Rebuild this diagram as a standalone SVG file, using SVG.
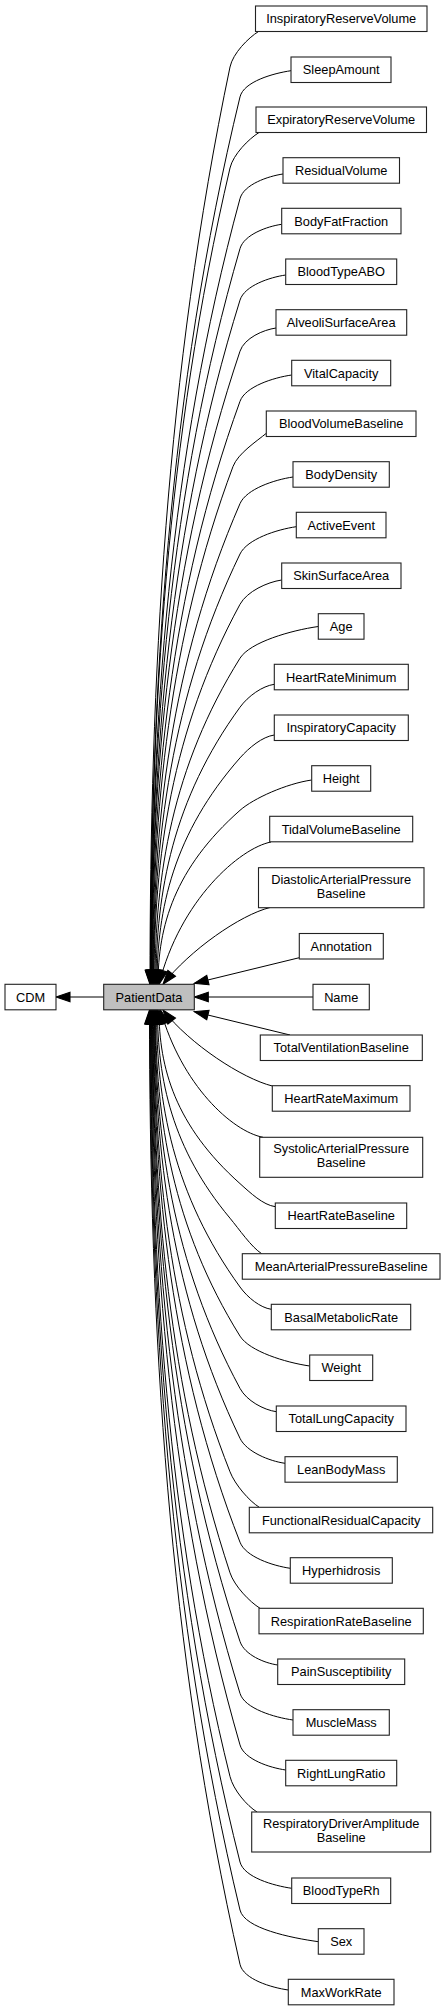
<svg xmlns="http://www.w3.org/2000/svg" width="445" height="2011" viewBox="0 0 445 2011">
<defs>
<marker id="ah" markerUnits="userSpaceOnUse" markerWidth="14" markerHeight="11" viewBox="0 0 13 10" refX="13" refY="5" orient="auto" overflow="visible">
<path d="M0,0.5 L13,5 L0,9.5 z" fill="#000" stroke="#000" stroke-width="1"/>
</marker>
<style>
.n rect{fill:#fff;stroke:#222;stroke-width:1.1}
.hl rect{fill:#bfbfbf}
text{font-family:"Liberation Sans",Arial,Helvetica,sans-serif;font-size:12.8px;text-anchor:middle;fill:#000}
#edges path{fill:none;stroke:#000;stroke-width:1;marker-end:url(#ah)}
</style>
</defs>
<rect x="0" y="0" width="445" height="2011" fill="#fff"/>
<g id="edges">
<path d="M258.5,31.5 C248.3,37.9 232.9,53.3 230,67 C166,372.8 150,678.5 150,984.3"/>
<path d="M291,70.7 C273.2,73.3 243.7,81.6 240,96.9 C168.4,392.7 150.5,688.5 150.5,984.3"/>
<path d="M259,132.5 C248.8,138.9 233.2,154.4 230,168 C166.4,440.1 150.5,712.2 150.5,984.3"/>
<path d="M283,174 C268,176.2 243.9,184.4 240,198.6 C168.8,460.5 151,722.4 151,984.3"/>
<path d="M281.7,224.3 C267.1,226.4 244.1,234.6 240,248.6 C168.8,493.8 151,739.1 151,984.3"/>
<path d="M285.7,275 C269.7,277.3 244.5,285.7 240,300.1 C169.2,528.2 151.5,756.2 151.5,984.3"/>
<path d="M276,328 C263.4,329.8 244.4,338 240,351.2 C169.2,562.2 151.5,773.3 151.5,984.3"/>
<path d="M291.7,375 C273.6,377.6 245.4,386.5 240,401.3 C169.6,595.6 152,790 152,984.3"/>
<path d="M266.3,433.3 C257,441 237.9,453.4 233,466.5 C168.6,639.1 152.5,811.7 152.5,984.3"/>
<path d="M293,477 C274.5,479.7 246.4,489 240,503.6 C170.4,663.8 153,824.1 153,984.3"/>
<path d="M296.3,526.7 C276.6,529.5 247.1,539.2 240,554 C170.8,697.4 153.5,840.9 153.5,984.3"/>
<path d="M281.7,580 C267.1,582.1 247,591.5 240,604.3 C171.2,731 154,857.6 154,984.3"/>
<path d="M318.3,626.5 C290.9,630.4 250.1,642.1 240,658.2 C172,766.9 155,875.6 155,984.3"/>
<path d="M274.3,684.3 C262.3,686 248.1,696.1 240,707.2 C172.8,799.6 156,891.9 156,984.3"/>
<path d="M274.3,735 C262.3,736.7 249.1,747.6 240,757.9 C173.6,833.4 157,908.8 157,984.3"/>
<path d="M311.7,780 C286.6,783.6 253.6,798.3 240,810.3 C174.4,868.3 158,926.3 158,984.3"/>
<path d="M271,842 C240,848 180,900 159,984.3"/>
<path d="M270,907.5 C240,915 190,950 163,984.3"/>
<path d="M299.3,957.7 L194.3,983.3"/>
<path d="M313,997 L194.3,997"/>
<path d="M103.7,997 L56,997"/>
<path d="M290,1035 L194.3,1011.7"/>
<path d="M272.3,1086 C242.3,1078.5 190,1044.3 163,1010"/>
<path d="M263,1137.3 C232,1131.3 181.5,1085 160.5,1010"/>
<path d="M275.3,1206.7 C262.9,1204.9 250.3,1192.8 240,1183.6 C175.2,1125.7 159,1067.9 159,1010"/>
<path d="M261.7,1253.7 C251.5,1247.3 239,1229 230,1218.2 C172,1148.8 157.5,1079.4 157.5,1010"/>
<path d="M271.3,1309.3 C260.3,1307.7 247.8,1297.8 240,1287 C173.2,1194.7 156.5,1102.3 156.5,1010"/>
<path d="M309.7,1366 C285.3,1362.5 249.5,1351.3 240,1336.1 C172.4,1227.4 155.5,1118.7 155.5,1010"/>
<path d="M276.3,1411.7 C263.6,1409.9 246.6,1400.7 240,1388.4 C172,1262.3 155,1136.1 155,1010"/>
<path d="M285,1463.3 C269.3,1461.1 246.5,1451.8 240,1438.3 C171.6,1295.5 154.5,1152.8 154.5,1010"/>
<path d="M259.3,1507.3 C249.1,1500.9 235.1,1484.8 230,1471.8 C169.2,1317.9 154,1163.9 154,1010"/>
<path d="M290.3,1568.3 C272.7,1565.8 245.7,1556.8 240,1542.2 C170.8,1364.8 153.5,1187.4 153.5,1010"/>
<path d="M260,1608.3 C249.8,1601.9 234.4,1586.1 230,1572.8 C168.4,1385.2 153,1197.6 153,1010"/>
<path d="M277.7,1665 C264.5,1663.1 244.5,1654.9 240,1641.5 C170,1431 152.5,1220.5 152.5,1010"/>
<path d="M293,1720 C274.5,1717.4 244.7,1708.7 240,1693.4 C169.6,1465.6 152,1237.8 152,1010"/>
<path d="M285.7,1770 C269.7,1767.7 244.2,1759.4 240,1744.9 C169.2,1499.9 151.5,1255 151.5,1010"/>
<path d="M257,1812 C246.8,1805.6 233.4,1790.1 230,1776.5 C166.8,1521 151,1265.5 151,1010"/>
<path d="M291.7,1888.3 C273.6,1885.7 243.9,1877.3 240,1862 C168.4,1578 150.5,1294 150.5,1010"/>
<path d="M318.3,1941.7 C290.9,1937.8 244.4,1928.5 240,1910 C168,1610 150,1310 150,1010"/>
<path d="M288.3,1990 C271.4,1987.6 243.4,1979.3 240,1964.3 C167.6,1646.2 149.5,1328.1 149.5,1010"/>
</g>
<g id="nodes">
<g id="n1" class="n"><rect x="255.5" y="6" width="171.5" height="25.5"/><text x="341.2" y="23.3">InspiratoryReserveVolume</text></g>
<g id="n2" class="n"><rect x="291" y="57" width="100" height="25.5"/><text x="341.2" y="74.2">SleepAmount</text></g>
<g id="n3" class="n"><rect x="256" y="107" width="170.5" height="25.5"/><text x="341.2" y="124.2">ExpiratoryReserveVolume</text></g>
<g id="n4" class="n"><rect x="283" y="157.7" width="116.5" height="25.5"/><text x="341.2" y="174.9">ResidualVolume</text></g>
<g id="n5" class="n"><rect x="281.7" y="208.3" width="119.3" height="25.5"/><text x="341.2" y="225.5">BodyFatFraction</text></g>
<g id="n6" class="n"><rect x="285.7" y="259" width="111" height="25.5"/><text x="341.2" y="276.2">BloodTypeABO</text></g>
<g id="n7" class="n"><rect x="276" y="309.7" width="130.7" height="25.5"/><text x="341.2" y="326.9">AlveoliSurfaceArea</text></g>
<g id="n8" class="n"><rect x="291.7" y="360.3" width="99" height="25.5"/><text x="341.2" y="377.5">VitalCapacity</text></g>
<g id="n9" class="n"><rect x="266.3" y="411" width="149.7" height="25.5"/><text x="341.2" y="428.2">BloodVolumeBaseline</text></g>
<g id="n10" class="n"><rect x="293" y="461.7" width="96.3" height="25.5"/><text x="341.2" y="478.9">BodyDensity</text></g>
<g id="n11" class="n"><rect x="296.3" y="512.3" width="89.7" height="25.5"/><text x="341.2" y="529.5">ActiveEvent</text></g>
<g id="n12" class="n"><rect x="281.7" y="563" width="119.3" height="25.5"/><text x="341.2" y="580.2">SkinSurfaceArea</text></g>
<g id="n13" class="n"><rect x="318.3" y="613.7" width="45.7" height="25.5"/><text x="341.2" y="630.9">Age</text></g>
<g id="n14" class="n"><rect x="274.3" y="664.3" width="134" height="25.5"/><text x="341.2" y="681.5">HeartRateMinimum</text></g>
<g id="n15" class="n"><rect x="274.3" y="715" width="134" height="25.5"/><text x="341.2" y="732.2">InspiratoryCapacity</text></g>
<g id="n16" class="n"><rect x="311.7" y="765.7" width="59" height="25.5"/><text x="341.2" y="782.9">Height</text></g>
<g id="n17" class="n"><rect x="269.7" y="816.3" width="143" height="25.5"/><text x="341.2" y="833.5">TidalVolumeBaseline</text></g>
<g id="n18" class="n"><rect x="258.5" y="867.7" width="165.5" height="40"/><text x="341.2" y="883.7">DiastolicArterialPressure</text><text x="341.2" y="897.7">Baseline</text></g>
<g id="n19" class="n"><rect x="299.3" y="933.5" width="84" height="25.5"/><text x="341.2" y="950.7">Annotation</text></g>
<g id="cdm" class="n"><rect x="5" y="984.3" width="51" height="25.5"/><text x="30.5" y="1001.5">CDM</text></g>
<g id="patientdata" class="n hl"><rect x="103.7" y="984.3" width="90.6" height="25.5"/><text x="149" y="1001.5">PatientData</text></g>
<g id="name" class="n"><rect x="313" y="984.3" width="56.3" height="25.5"/><text x="341.2" y="1001.5">Name</text></g>
<g id="n20" class="n"><rect x="260.3" y="1035" width="162" height="25.5"/><text x="341.2" y="1052.2">TotalVentilationBaseline</text></g>
<g id="n21" class="n"><rect x="272.3" y="1085.7" width="137.7" height="25.5"/><text x="341.2" y="1102.9">HeartRateMaximum</text></g>
<g id="n22" class="n"><rect x="259.7" y="1137.3" width="163" height="40"/><text x="341.2" y="1153.3">SystolicArterialPressure</text><text x="341.2" y="1167.3">Baseline</text></g>
<g id="n23" class="n"><rect x="275.3" y="1203" width="131.4" height="25.5"/><text x="341.2" y="1220.2">HeartRateBaseline</text></g>
<g id="n24" class="n"><rect x="242.3" y="1253.7" width="197.7" height="25.5"/><text x="341.2" y="1270.9">MeanArterialPressureBaseline</text></g>
<g id="n25" class="n"><rect x="271.3" y="1304.3" width="139.4" height="25.5"/><text x="341.2" y="1321.5">BasalMetabolicRate</text></g>
<g id="n26" class="n"><rect x="309.7" y="1355" width="63" height="25.5"/><text x="341.2" y="1372.2">Weight</text></g>
<g id="n27" class="n"><rect x="276.3" y="1406" width="129.7" height="25.5"/><text x="341.2" y="1423.2">TotalLungCapacity</text></g>
<g id="n28" class="n"><rect x="285" y="1456.7" width="112.3" height="25.5"/><text x="341.2" y="1473.9">LeanBodyMass</text></g>
<g id="n29" class="n"><rect x="249.3" y="1507.3" width="183.4" height="25.5"/><text x="341.2" y="1524.5">FunctionalResidualCapacity</text></g>
<g id="n30" class="n"><rect x="290.3" y="1557.7" width="102" height="25.5"/><text x="341.2" y="1574.9">Hyperhidrosis</text></g>
<g id="n31" class="n"><rect x="259" y="1608.3" width="164.3" height="25.5"/><text x="341.2" y="1625.5">RespirationRateBaseline</text></g>
<g id="n32" class="n"><rect x="277.7" y="1659" width="127" height="25.5"/><text x="341.2" y="1676.2">PainSusceptibility</text></g>
<g id="n33" class="n"><rect x="293" y="1709.7" width="96.3" height="25.5"/><text x="341.2" y="1726.9">MuscleMass</text></g>
<g id="n34" class="n"><rect x="285.7" y="1760.3" width="111" height="25.5"/><text x="341.2" y="1777.5">RightLungRatio</text></g>
<g id="n35" class="n"><rect x="251.7" y="1812" width="179" height="40"/><text x="341.2" y="1828">RespiratoryDriverAmplitude</text><text x="341.2" y="1842">Baseline</text></g>
<g id="n36" class="n"><rect x="291.7" y="1878" width="99" height="25.5"/><text x="341.2" y="1895.2">BloodTypeRh</text></g>
<g id="n37" class="n"><rect x="318.3" y="1928.7" width="45.7" height="25.5"/><text x="341.2" y="1945.9">Sex</text></g>
<g id="n38" class="n"><rect x="288.3" y="1979.3" width="105.7" height="25.5"/><text x="341.2" y="1996.5">MaxWorkRate</text></g>
</g>
</svg>
